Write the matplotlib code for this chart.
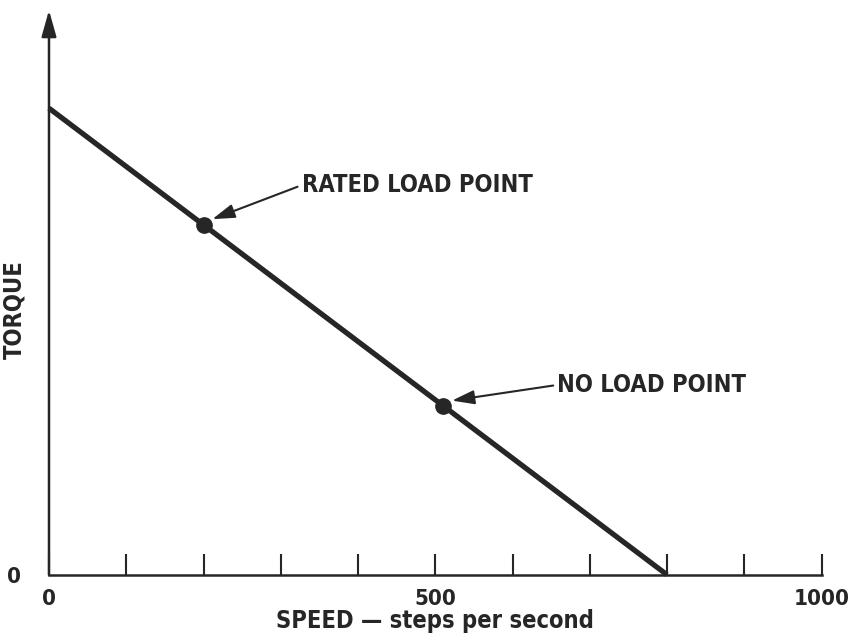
import matplotlib.pyplot as plt
import numpy as np

## Data (torque in arbitrary units)
speed_line = [0, 800]
torque_line = [1.0, 0.0]
point_names = ["RATED LOAD POINT", "NO LOAD POINT"]
point_speed = [200, 510]
point_torque = [0.75, 0.3625]
label_speed = [327, 658]
label_torque = [0.835, 0.407]
x_ticks = [0, 100, 200, 300, 400, 500, 600, 700, 800, 900, 1000]
x_tick_labels = ["0", "", "", "", "", "500", "", "", "", "", "1000"]

plt.rcParams['font.family'] = ['DejaVu Sans']
plt.rcParams['font.stretch'] = 'condensed'
plt.rcParams['font.weight'] = 'bold'
plt.rcParams['axes.labelweight'] = 'bold'
ink = '#262626'
fs = 17

fig = plt.figure(figsize=(8.49, 6.38), dpi=100)
ax = fig.add_axes([0.0577, 0.099, 0.910, 0.885])
ax.set_xlim(0, 1000)
ax.set_ylim(0, 1.21)

## Axes: bottom spine only, left drawn as arrow
for side in ['top', 'right', 'left']:
    ax.spines[side].set_visible(False)
ax.spines['bottom'].set_linewidth(1.8)
ax.spines['bottom'].set_color(ink)
ax.annotate('', xy=(0, 1.21), xytext=(0, 0), xycoords='data',
            arrowprops=dict(arrowstyle='-|>,head_length=1.6,head_width=0.45',
                            color=ink, lw=1.8, shrinkA=0, shrinkB=0),
            annotation_clip=False)

ax.set_xticks(x_ticks)
ax.set_xticklabels(x_tick_labels, fontsize=16)
ax.tick_params(axis='x', direction='in', length=15, width=1.5, colors=ink, pad=10)
ax.set_yticks([0])
ax.set_yticklabels(["0"], fontsize=16)
ax.tick_params(axis='y', length=0, pad=20, colors=ink)

ax.set_xlabel("SPEED \u2014 steps per second", fontsize=fs, color=ink, labelpad=0)
ax.set_ylabel("TORQUE", fontsize=fs, color=ink)
ax.yaxis.set_label_coords(-0.029, 0.469)

## Torque-speed line and points
ax.plot(speed_line, torque_line, color=ink, lw=3.8, solid_capstyle='butt', clip_on=False)
ax.plot(point_speed, point_torque, 'o', color=ink, markersize=11)

for name, px, py, lx, ly in zip(point_names, point_speed, point_torque, label_speed, label_torque):
    ax.annotate(name, xy=(px + 8, py + 0.01), xytext=(lx, ly), ha='left', va='center',
                fontsize=fs, color=ink,
                arrowprops=dict(arrowstyle='-|>,head_length=0.8,head_width=0.25',
                                color=ink, lw=1.5, shrinkA=1, shrinkB=2,
                                relpos=(0.0, 0.5)))

fig.savefig("out.png", dpi=100)
